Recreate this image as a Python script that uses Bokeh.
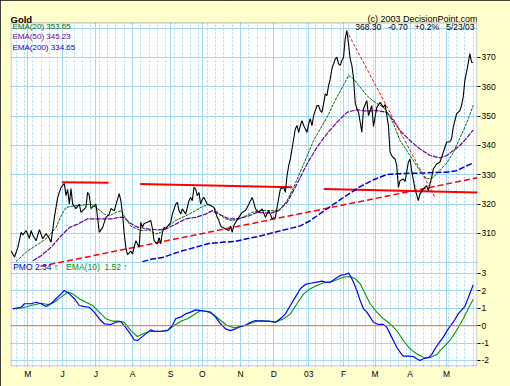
from bokeh.plotting import figure
from bokeh.models import Range1d, FixedTicker, Grid, Label, Span, BoxAnnotation
from bokeh.embed import file_html
from bokeh.resources import INLINE

# ---------------- data (trading-day index) ----------------
price_day = [0, 1, 2, 4, 6, 7, 9, 11, 12, 13,
             15, 17, 19, 21, 23, 24, 26, 28, 30, 32,
             33, 34, 35, 36, 37, 39, 41, 42, 45, 46,
             47, 48, 49, 51, 52, 53, 55, 57, 59, 60,
             62, 65, 66, 67, 68, 69, 70, 72, 73, 74,
             75, 76, 77, 78, 79, 80, 82, 84, 85, 86,
             88, 89, 90, 91, 92, 93, 96, 97, 99, 100,
             101, 102, 103, 105, 107, 108, 109, 110, 111, 112,
             113, 114, 115, 116, 118, 120, 122, 123, 124, 125,
             126, 127, 129, 131, 132, 133, 134, 135, 137, 139,
             141, 143, 144, 145, 146, 147, 148, 149, 151, 153,
             155, 157, 159, 160, 162, 164, 165, 166, 167, 168,
             169, 170, 171, 172, 173, 174, 175, 176, 178, 179,
             180, 181, 182, 183, 184, 185, 186, 187, 188, 189,
             190, 191, 192, 193, 194, 195, 196, 197, 198, 199,
             200, 201, 202, 203, 204, 205, 206, 207, 208, 209,
             210, 211, 212, 214, 215, 217, 218, 220, 222, 224,
             225, 227, 228, 229, 230, 231, 232, 233, 234, 236,
             237, 239, 240, 241, 243, 245, 246, 248, 250, 251,
             253, 254, 256, 258, 260, 262, 264, 265, 266, 268,
             270, 271, 272, 273, 274, 275, 276, 277, 278]
price = [304.0, 303.0, 302.0, 305.2, 310.4, 309.5, 311.0, 308.3, 311.0, 309.5,
         307.5, 311.3, 308.2, 310.0, 308.2, 307.0, 315.5, 322.3, 325.7, 327.0,
         322.9, 325.0, 320.0, 325.3, 320.0, 318.5, 320.0, 317.2, 318.9, 324.0,
         323.0, 318.5, 319.0, 320.0, 315.5, 310.4, 312.0, 315.5, 316.5, 318.5,
         317.7, 323.6, 321.2, 316.8, 310.0, 305.3, 302.8, 304.0, 303.0, 305.3,
         307.5, 306.5, 305.3, 313.8, 312.1, 313.4, 313.8, 314.4, 311.7, 307.5,
         306.5, 308.6, 306.5, 310.4, 312.1, 311.7, 313.8, 316.6, 320.0, 320.6,
         317.8, 316.6, 318.4, 316.6, 321.2, 322.3, 321.2, 325.7, 325.2, 322.9,
         324.0, 320.0, 321.7, 322.3, 320.0, 319.5, 318.9, 317.2, 315.5, 314.4,
         312.7, 312.1, 311.5, 311.0, 312.5, 310.4, 312.7, 313.8, 315.5, 317.2,
         317.8, 320.0, 321.2, 322.3, 320.6, 318.4, 317.8, 317.2, 318.4, 315.5,
         317.8, 315.0, 315.5, 319.0, 325.2, 325.7, 324.0, 329.7, 333.1, 335.4,
         338.8, 342.3, 345.7, 346.8, 344.5, 346.8, 348.5, 346.8, 344.5, 347.4,
         349.1, 346.8, 350.2, 351.9, 353.6, 353.6, 351.9, 351.3, 354.2, 357.6,
         357.0, 360.4, 362.7, 366.1, 367.8, 369.5, 370.1, 367.8, 367.3, 369.0,
         370.1, 376.4, 379.2, 374.7, 369.5, 367.3, 363.0, 354.7, 352.5, 351.3,
         348.0, 344.5, 352.5, 355.3, 350.2, 353.6, 346.5, 353.0, 354.7, 353.0,
         354.0, 346.8, 337.7, 336.5, 335.8, 335.4, 333.1, 325.7, 328.0, 328.6,
         327.7, 334.3, 335.4, 331.4, 325.2, 321.2, 323.5, 325.2, 326.3, 324.6,
         329.1, 332.0, 333.7, 334.3, 337.7, 341.1, 341.3, 342.3, 346.2, 350.8,
         351.9, 353.6, 356.5, 362.2, 365.0, 368.0, 371.3, 368.4, 368.3]

ema20_day = [3, 10, 18, 22, 27, 30, 33, 39, 45, 48,
             51, 56, 59, 63, 66, 69, 72, 78, 83, 87,
             90, 95, 99, 105, 111, 114, 119, 122, 125, 129,
             133, 137, 141, 145, 150, 160, 162, 166, 170, 176,
             182, 190, 196, 201, 203, 206, 210, 214, 219, 224,
             227, 230, 234, 238, 242, 246, 250, 254, 258, 262,
             266, 270, 274, 278]
ema20 = [300.5, 304.1, 307.0, 308.7, 312.0, 316.0, 318.9, 319.5, 319.8, 320.0,
         318.9, 316.6, 316.0, 317.2, 317.8, 315.0, 312.5, 311.0, 311.2, 309.8,
         310.4, 312.7, 314.4, 316.0, 317.8, 318.9, 320.0, 318.9, 316.6, 315.0,
         314.4, 315.0, 316.0, 317.2, 317.8, 317.8, 318.4, 321.2, 325.7, 333.7,
         341.7, 349.6, 356.5, 361.6, 363.9, 362.7, 359.9, 357.0, 354.7, 353.0,
         350.8, 347.4, 341.7, 338.3, 334.8, 331.4, 328.6, 329.1, 331.5, 334.0,
         337.5, 342.5, 347.5, 353.65]

ema50_day = [13, 18, 24, 30, 35, 40, 46, 50, 55, 61,
             65, 68, 71, 74, 77, 83, 89, 93, 99, 105,
             111, 117, 121, 125, 131, 137, 143, 148, 156, 161,
             166, 172, 178, 184, 190, 196, 202, 208, 214, 220,
             226, 230, 234, 240, 246, 252, 258, 262, 266, 270,
             274, 278]
ema50 = [300.7, 302.4, 305.3, 309.2, 312.0, 313.2, 315.0, 315.0, 315.0, 315.0,
         315.5, 315.5, 313.8, 312.7, 312.0, 311.5, 311.2, 311.5, 313.2, 315.0,
         315.5, 316.6, 317.8, 316.6, 315.0, 315.0, 316.0, 317.2, 316.9, 317.8,
         320.6, 326.9, 333.7, 339.4, 344.0, 347.9, 351.3, 352.2, 351.7, 351.9,
         351.3, 348.5, 345.1, 341.7, 338.8, 336.6, 335.8, 336.5, 338.3, 340.0,
         342.5, 345.23]

ema200_day = [79, 85, 91, 97, 103, 111, 119, 127, 135, 141,
              148, 174, 180, 190, 200, 210, 218, 226, 234, 246,
              262, 268, 273, 278]
ema200 = [300.4, 301.3, 301.8, 303.0, 304.1, 305.3, 306.6, 307.0, 307.3, 308.1,
          308.9, 312.6, 314.4, 318.4, 322.3, 326.0, 328.3, 330.1, 330.4, 330.6,
          330.9, 331.4, 332.8, 334.05]

pmo_day = [1, 6, 8, 12, 15, 18, 21, 24, 27, 30,
           32, 35, 38, 41, 44, 47, 50, 53, 56, 60,
           63, 66, 68, 71, 74, 76, 78, 81, 84, 86,
           90, 94, 97, 99, 102, 105, 108, 111, 114, 117,
           120, 123, 126, 129, 132, 135, 138, 141, 144, 147,
           150, 155, 159, 162, 165, 168, 171, 174, 177, 180,
           184, 187, 189, 192, 195, 198, 201, 203, 204, 206,
           208, 210, 212, 214, 216, 218, 221, 224, 226, 228,
           230, 232, 234, 236, 239, 242, 244, 246, 248, 251,
           253, 255, 257, 260, 263, 266, 269, 271, 273, 275,
           278]
pmo = [0.97, 1.06, 1.26, 1.26, 1.35, 1.26, 1.10, 1.26, 1.55, 1.83,
       2.02, 1.83, 1.55, 1.16, 1.10, 1.06, 0.78, 0.40, 0.11, 0.07,
       0.20, 0.24, 0.01, -0.37, -0.81, -0.85, -0.70, -0.47, -0.24, -0.32,
       -0.32, -0.28, 0.01, 0.40, 0.49, 0.68, 0.78, 0.91, 0.87, 0.83,
       0.78, 0.49, 0.11, -0.18, -0.28, -0.18, -0.05, 0.01, 0.20, 0.30,
       0.26, 0.26, 0.20, 0.40, 0.68, 1.16, 1.64, 2.12, 2.37, 2.44,
       2.50, 2.56, 2.50, 2.50, 2.70, 2.89, 2.94, 3.02, 2.89, 2.50,
       2.02, 1.45, 0.97, 0.78, 0.49, 0.20, 0.07, 0.07, -0.09, -0.47,
       -0.85, -1.24, -1.52, -1.75, -1.75, -1.77, -1.90, -2.00, -1.90, -1.84,
       -1.66, -1.33, -1.04, -0.66, -0.18, 0.20, 0.68, 0.90, 1.10, 1.60,
       2.34]

pmo_ema_day = [1, 7, 12, 18, 22, 26, 30, 34, 37, 41,
               45, 49, 53, 57, 61, 65, 68, 72, 76, 80,
               84, 90, 94, 98, 102, 106, 110, 114, 118, 122,
               126, 130, 134, 138, 142, 146, 150, 156, 159, 164,
               168, 172, 176, 180, 184, 188, 192, 196, 200, 204,
               207, 210, 213, 216, 220, 224, 228, 232, 236, 240,
               244, 248, 252, 256, 260, 264, 268, 272, 275, 278]
pmo_ema = [0.97, 1.03, 1.16, 1.29, 1.22, 1.35, 1.64, 1.93, 1.83, 1.55,
           1.35, 1.16, 0.78, 0.40, 0.26, 0.26, 0.20, -0.28, -0.62, -0.43,
           -0.32, -0.33, -0.28, 0.01, 0.26, 0.40, 0.63, 0.87, 0.82, 0.63,
           0.30, 0.01, -0.12, -0.05, 0.07, 0.20, 0.30, 0.24, 0.20, 0.40,
           0.68, 1.26, 1.83, 2.12, 2.31, 2.47, 2.50, 2.64, 2.79, 2.83,
           2.70, 2.41, 1.83, 1.26, 0.78, 0.40, 0.11, -0.28, -0.85, -1.33,
           -1.61, -1.81, -1.84, -1.66, -1.24, -0.85, -0.28, 0.40, 0.97, 1.52]

# hand-drawn trend lines (start day, start price, end day, end price)
flat_x0 = [30.5, 77.6, 188.1]
flat_y0 = [327.5, 326.9, 325.2]
flat_x1 = [58.6, 169.1, 280.6]
flat_y1 = [327.3, 325.8, 324.0]
rise_x = [17.7, 280.6]
rise_y = [298.8, 329.0]
fall_x = [201.8, 255.3]
fall_y = [379.2, 322.0]

month_start_day = [10, 31, 51, 73, 96, 115, 138, 158, 179, 200, 219, 240, 262]
month_labels = ["M", "J", "J", "A", "S", "O", "N", "D", "03", "F", "M", "A", "M"]
price_ticks = [310, 320, 330, 340, 350, 360, 370]
price_grid = [300, 310, 320, 330, 340, 350, 360, 370, 380]
pmo_ticks = [3, 2, 1, 0, -1, -2]

# ---------------- figure ----------------
X0, X1 = -0.4, 280.6          # day range across the plot box
P0, P1 = 264.65, 389.09       # price range (frame extends up into the header strip)
PTOP = 381.95                 # price at the top edge of the chart box
M0, M1 = -2.345, 18.63        # PMO range over the same frame
BG = "#FFFFCC"
GRID = "#A3D8F2"
FONT = "Liberation Sans"
NB = "\u00a0"

p = figure(width=510, height=386, output_backend="svg", toolbar_location=None,
           x_range=Range1d(X0, X1), y_range=Range1d(P0, P1),
           y_axis_location="right",
           min_border_left=10, min_border_right=33, min_border_top=1, min_border_bottom=20)
p.extra_y_ranges = {"pmo": Range1d(M0, M1)}
p.background_fill_color = "white"
p.border_fill_color = BG
p.outline_line_color = None
p.styles = {"outline": "1px solid #000000", "outline-offset": "-1px"}

# grids
p.xgrid.ticker = FixedTicker(ticks=month_start_day)
p.xgrid.grid_line_color = GRID
p.xgrid.grid_line_width = 1
p.add_layout(Grid(dimension=0, ticker=FixedTicker(ticks=list(range(3, 281, 5))),
                  grid_line_color=GRID, grid_line_dash="2 2"))
p.ygrid.ticker = FixedTicker(ticks=price_grid)
p.ygrid.grid_line_color = GRID
p.add_layout(Grid(dimension=1, y_range_name="pmo", ticker=FixedTicker(ticks=[-2, -1, 1, 2, 3]),
                  grid_line_color=GRID))
p.add_layout(Span(location=0, dimension="width", y_range_name="pmo",
                  line_color="#FF6600", line_width=1))

# price panel
p.segment(x0=flat_x0, y0=flat_y0, x1=flat_x1, y1=flat_y1, line_color="#FF0000", line_width=2)
p.line(rise_x, rise_y, line_color="#FF0000", line_width=1.5, line_dash="6 3")
p.line(ema200_day, ema200, line_color="#0000CC", line_width=1.5, line_dash="6 2")
p.line(ema50_day, ema50, line_color="#660099", line_width=1.2, line_dash="5 1")
p.line(ema20_day, ema20, line_color="#006600", line_width=1, line_dash="3 1")
p.line(price_day, price, line_color="black", line_width=1.1)
p.line(fall_x, fall_y, line_color="#FF0000", line_width=1, line_dash="3 2")

# PMO panel
p.line(pmo_ema_day, pmo_ema, y_range_name="pmo", line_color="#009900", line_width=1.1)
p.line(pmo_day, pmo, y_range_name="pmo", line_color="#0000FF", line_width=1.2)

# header strip (yellow) and chart box border
p.add_layout(BoxAnnotation(bottom=PTOP, fill_color=BG, fill_alpha=1.0, line_color=None))
p.add_layout(BoxAnnotation(left=X0 + 0.3, right=X1 - 0.3, bottom=P0 + 0.17, top=PTOP - 0.17,
                           fill_color=None, fill_alpha=0, line_color="black", line_width=1))

# axes
yax = p.yaxis[0]
pmo_pos = [round(P0 + (v - M0) * (P1 - P0) / (M1 - M0), 3) for v in pmo_ticks]
yax.ticker = FixedTicker(ticks=price_ticks + pmo_pos)
yax.major_label_overrides = {pos: str(v) for pos, v in zip(pmo_pos, pmo_ticks)}
yax.major_tick_out = 3
yax.major_tick_in = 0
yax.minor_tick_line_color = None
yax.major_label_standoff = 1
yax.major_label_text_font = FONT
yax.major_label_text_font_size = "8.5px"
yax.major_label_text_color = "black"
yax.axis_line_color = None

xax = p.xaxis[0]
xax.ticker = FixedTicker(ticks=month_start_day)
xax.major_label_overrides = {d: s for d, s in zip(month_start_day, month_labels)}
xax.major_tick_line_color = None
xax.minor_tick_line_color = None
xax.major_tick_out = 0
xax.major_tick_in = 0
xax.axis_line_color = None
xax.major_label_standoff = 2
xax.major_label_text_font = FONT
xax.major_label_text_font_size = "8.5px"
xax.major_label_text_color = "black"


def lbl(text, x, y, color, size, align="left", baseline="middle", bold=False, rng="default"):
    return Label(x=x, y=y, text=text, text_color=color, text_font=FONT,
                 text_font_size=size, text_align=align, text_baseline=baseline,
                 text_font_style="bold" if bold else "normal", y_range_name=rng)


info_text = NB.join(["368.30", "", "", "-0.70", "", "", "+0.2%", "", "", "5/23/03"])
p.add_layout(lbl("Gold", X0, 382.85, "black", "9.5px", baseline="alphabetic", bold=True))
p.add_layout(lbl("(c) 2003 DecisionPoint.com", X1, 383.2, "black", "9px",
                 align="right", baseline="alphabetic"))
p.add_layout(lbl("EMA(20) 353.65", 0.8, 380.67, "#006600", "8px"))
p.add_layout(lbl("EMA(50) 345.23", 0.8, 377.09, "#660099", "8px"))
p.add_layout(lbl("EMA(200) 334.65", 0.8, 373.51, "#0000CC", "8px"))
p.add_layout(lbl(info_text, 278.8, 380.47, "black", "8.5px", align="right"))
p.add_layout(lbl("PMO 2.34" + NB + "\u2191", 1.2, 3.40, "#0000CC", "8.5px", rng="pmo"))
p.add_layout(lbl("EMA(10)" + NB + NB + "1.52" + NB + "\u2191", 33.1, 3.40, "#009900", "8.5px", rng="pmo"))

open("out.html", "w").write(file_html(p, INLINE))
